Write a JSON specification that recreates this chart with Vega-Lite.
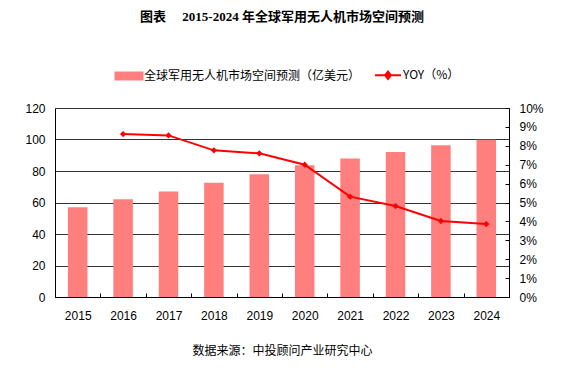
{
  "$schema": "https://vega.github.io/schema/vega-lite/v6.json",
  "width": 454,
  "height": 189,
  "autosize": {"type": "none"},
  "padding": {"left": 55, "top": 108, "right": 58, "bottom": 73},
  "background": "white",
  "title": {
    "text": "图表\u3000 2015-2024 年全球军用无人机市场空间预测",
    "font": "Liberation Serif, Noto Sans CJK SC",
    "fontSize": 13,
    "fontWeight": "bold",
    "color": "#000000",
    "anchor": "middle",
    "offset": 45
  },
  "config": {
    "view": {"stroke": null},
    "axis": {"labelFont": "Liberation Sans", "labelFontSize": 12, "labelColor": "#000000"}
  },
  "data": {
    "values": [
      {"year": "2015", "market": 57, "yoy": null},
      {"year": "2016", "market": 62, "yoy": 8.62},
      {"year": "2017", "market": 67, "yoy": 8.55},
      {"year": "2018", "market": 72.6, "yoy": 7.76},
      {"year": "2019", "market": 78, "yoy": 7.6},
      {"year": "2020", "market": 83.6, "yoy": 7.0},
      {"year": "2021", "market": 88, "yoy": 5.31},
      {"year": "2022", "market": 92, "yoy": 4.81},
      {"year": "2023", "market": 96.3, "yoy": 4.02},
      {"year": "2024", "market": 99.8, "yoy": 3.86}
    ]
  },
  "encoding": {
    "x": {
      "field": "year",
      "type": "ordinal",
      "scale": {"paddingInner": 0, "paddingOuter": 0},
      "axis": {
        "title": "数据来源：中投顾问产业研究中心",
        "titleFont": "Noto Sans CJK SC",
        "titleFontSize": 12,
        "titleFontWeight": "normal",
        "titleColor": "#000000",
        "titlePadding": 24,
        "labelAngle": 0,
        "tickBand": "extent",
        "tickSize": -4,
        "labelPadding": 17,
        "domainColor": "#000000",
        "tickColor": "#000000",
        "grid": false
      }
    }
  },
  "layer": [
    {
      "mark": {"type": "bar", "width": {"band": 0.43}},
      "encoding": {
        "y": {
          "field": "market",
          "type": "quantitative",
          "scale": {"domain": [0, 120]},
          "axis": {
            "title": null,
            "values": [0, 20, 40, 60, 80, 100, 120],
            "grid": true,
            "gridColor": "#333333",
            "gridWidth": 1,
            "gridOpacity": 1,
            "tickSize": 0,
            "labelPadding": 10,
            "domainColor": "#000000"
          }
        },
        "color": {
          "datum": "全球军用无人机市场空间预测（亿美元）",
          "scale": {
            "domain": ["全球军用无人机市场空间预测（亿美元）", "YOY（%）"],
            "range": ["#FF7F7F", "#FF0000"]
          },
          "legend": {
            "title": null,
            "orient": "none",
            "legendX": 68,
            "legendY": -39,
            "direction": "horizontal",
            "labelFont": "Noto Sans CJK SC",
            "labelFontSize": 12,
            "labelColor": "#000000",
            "labelOffset": 9,
            "labelLimit": 300,
            "columnPadding": 9,
            "symbolSize": 841,
            "encode": {
              "symbols": {
                "update": {
                  "shape": {"signal": "datum.value === 'YOY（%）' ? 'M-0.9,0H0.9M-0.2,0L0,-0.25L0.2,0L0,0.25Z' : 'M-1,-0.31H1V0.31H-1Z'"},
                  "fill": {"signal": "datum.value === 'YOY（%）' ? '#FF0000' : '#FF7F7F'"},
                  "stroke": {"signal": "datum.value === 'YOY（%）' ? '#FF0000' : '#FF7F7F'"},
                  "strokeWidth": {"signal": "datum.value === 'YOY（%）' ? 2 : 0"},
                  "opacity": {"value": 1},
                  "fillOpacity": {"value": 1},
                  "size": {"value": 841}
                }
              }
            }
          }
        }
      }
    },
    {
      "mark": {
        "type": "line",
        "strokeWidth": 2,
        "point": {"shape": "diamond", "size": 40, "filled": true}
      },
      "encoding": {
        "y": {
          "field": "yoy",
          "type": "quantitative",
          "scale": {"domain": [0, 10]},
          "axis": {
            "orient": "right",
            "title": null,
            "values": [0, 1, 2, 3, 4, 5, 6, 7, 8, 9, 10],
            "labelExpr": "datum.value + '%'",
            "grid": false,
            "tickSize": -4,
            "labelPadding": 14,
            "domainColor": "#000000",
            "tickColor": "#000000"
          }
        },
        "color": {"datum": "YOY（%）"}
      }
    }
  ],
  "resolve": {"scale": {"y": "independent"}}
}
